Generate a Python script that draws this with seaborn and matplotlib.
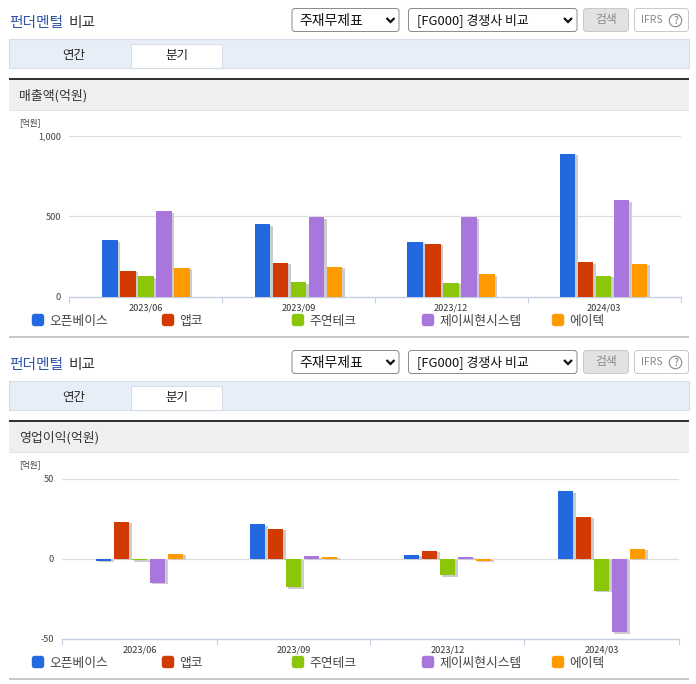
import matplotlib
matplotlib.use("Agg")
import matplotlib.pyplot as plt
import matplotlib.patheffects as pe
from matplotlib.patches import Rectangle, FancyBboxPatch
import pandas as pd
import seaborn as sns

periods = ["2023/06", "2023/09", "2023/12", "2024/03"]
companies = ["오픈베이스", "앱코", "주연테크", "제이씨현시스템", "에이텍"]
colors = ["#2268DE", "#D13A00", "#8CC60B", "#A876DC", "#FF9A00"]

revenue_openbase = [350, 450, 340, 890]
revenue_abko = [160, 210, 330, 215]
revenue_jooyon = [125, 90, 85, 130]
revenue_jchyun = [530, 495, 495, 600]
revenue_atec = [180, 185, 140, 205]

profit_openbase = [-1.5, 21.5, 2.5, 42]
profit_abko = [23, 18.5, 5, 26]
profit_jooyon = [-1, -18, -10.5, -20]
profit_jchyun = [-15, 1.5, 1, -46]
profit_atec = [3, 1, -1.5, 6]

revenue_ticks = [0, 500, 1000]
revenue_labels = ["0", "500", "1,000"]
profit_ticks = [-50, 0, 50]
profit_labels = ["-50", "0", "50"]

W, H = 696, 684
sns.set_theme(style="white")
plt.rcParams["font.family"] = ["Noto Sans CJK KR", "DejaVu Sans"]
fig = plt.figure(figsize=(W / 100, H / 100), dpi=100, facecolor="white")

ui = fig.add_axes([0, 0, 1, 1], zorder=0)
ui.set_xlim(0, W)
ui.set_ylim(H, 0)
ui.axis("off")


def rect(x0, y0, x1, y1, fc, ec="none", lw=0.8):
    ui.add_patch(Rectangle((x0, y0), x1 - x0, y1 - y0, fc=fc, ec=ec, lw=lw))


def rbox(x0, y0, x1, y1, fc, ec, r=3.0, lw=0.7):
    ui.add_patch(FancyBboxPatch((x0 + r, y0 + r), x1 - x0 - 2 * r, y1 - y0 - 2 * r,
                                boxstyle=f"round,pad={r},rounding_size={r}", fc=fc, ec=ec, lw=lw))


def chevron(cx, cy):
    ui.plot([cx - 4, cx, cx + 4], [cy - 2, cy + 2, cy - 2], color="#111111", lw=1.6,
            solid_capstyle="butt", solid_joinstyle="miter")


def section(dy, band_title):
    ui.text(9.5, 23 + dy, "펀더멘털", color="#2F55A8", fontsize=10.6, fontweight="medium", va="center")
    ui.text(69, 23 + dy, "비교", color="#333333", fontsize=10.6, fontweight="medium", va="center")
    rbox(292, 8.5 + dy, 399, 31.5 + dy, "white", "#8A8A8A")
    ui.text(299, 20.5 + dy, "주재무제표", color="#111111", fontsize=10, va="center")
    chevron(390.5, 20 + dy)
    rbox(408.5, 8.5 + dy, 577, 31.5 + dy, "white", "#8A8A8A")
    ui.text(417, 20.5 + dy, "[FG000] 경쟁사 비교", color="#111111", fontsize=9.3, va="center")
    chevron(568, 20 + dy)
    rbox(583.5, 8.5 + dy, 628.5, 31.5 + dy, "#E2E2E2", "#C8C8C8")
    ui.text(606, 20 + dy, "검색", color="#8A8A8A", fontsize=8.5, ha="center", va="center")
    rbox(634.5, 8.5 + dy, 688.5, 31.5 + dy, "white", "#C8C8C8")
    ui.text(641, 20 + dy, "IFRS", color="#888888", fontsize=7.5, va="center")
    ui.text(675.5, 20.5 + dy, "?", color="#777777", fontsize=7.5, ha="center", va="center",
            bbox=dict(boxstyle="circle,pad=0.12", fc="white", ec="#888888", lw=0.8))
    rect(9, 38.5 + dy, 689, 67.5 + dy, "#E8EEF8", "#D5DEEA")
    rect(131, 43.5 + dy, 222, 67.5 + dy, "white", "#D5DEEA")
    ui.text(74, 55 + dy, "연간", color="#222222", fontsize=9, ha="center", va="center")
    ui.text(176.5, 55 + dy, "분기", color="#222222", fontsize=9, ha="center", va="center")
    rect(9, 78 + dy, 689, 80 + dy, "#333333")
    rect(9, 80 + dy, 689, 110 + dy, "#EFEFEF")
    rect(9, 110 + dy, 689, 111 + dy, "#E2E2E2")
    ui.text(19, 96 + dy, band_title, color="#333333", fontsize=9.3, va="center")
    ui.text(19.5, 123 + dy, "[억원]", color="#444444", fontsize=6.2, va="center")
    for i, (name, c) in enumerate(zip(companies, colors)):
        x = 32 + 130 * i
        rbox(x, 314 + dy, x + 12, 326 + dy, c, c, r=2.5, lw=0.3)
        ui.text(x + 17, 321 + dy, name, color="#444444", fontsize=9.2, va="center")
    rect(9, 336 + dy, 689, 338 + dy, "#C8C8C8")


section(0, "매출액(억원)")
section(342, "영업이익(억원)")


def chart(series, ticks, labels, ylim, left, right, top, bottom, c0, step, edges):
    ax = fig.add_axes([left / W, 1 - bottom / H, (right - left) / W, (bottom - top) / H], zorder=2)
    ax.patch.set_alpha(0)
    df = pd.DataFrame({"기간": periods * 5,
                       "회사": [n for n in companies for _ in periods],
                       "값": [v for s in series for v in s]})
    sns.barplot(data=df, x="기간", y="값", hue="회사", order=periods, hue_order=companies,
                palette=colors, saturation=1, width=90 / step, gap=0.12, legend=False, ax=ax, zorder=3)
    for p in ax.patches:
        p.set_edgecolor("none")
        p.set_linewidth(0)
        p.set_path_effects([pe.SimplePatchShadow(offset=(1.5, -1.1), shadow_rgbFace="#CCCCCC", alpha=1),
                            pe.Normal()])
    ax.set_xlim((left - c0) / step, (right - c0) / step)
    ax.set_ylim(*ylim)
    ax.set_xlabel("")
    ax.set_ylabel("")
    ax.set_yticks(ticks)
    ax.set_yticklabels(labels)
    ax.set_xticks(range(len(periods)))
    ax.set_xticklabels(periods)
    ax.set_xticks([(e - c0) / step for e in edges], minor=True)
    ax.tick_params(axis="x", which="major", length=0, pad=5, labelsize=6.6, labelcolor="#333333")
    ax.tick_params(axis="x", which="minor", length=4, width=0.8, color="#C5CFE0", direction="out", bottom=True)
    ax.tick_params(axis="y", which="major", length=0, pad=6, labelsize=6.6, labelcolor="#444444")
    ax.grid(False)
    for t in ticks:
        if t != ylim[0]:
            ax.axhline(t, color="#DDDDDD", lw=0.9, zorder=1)
    for s in ax.spines.values():
        s.set_visible(False)
    ax.spines["bottom"].set_visible(True)
    ax.spines["bottom"].set_color("#C5CFE0")
    ax.spines["bottom"].set_linewidth(1.0)
    return ax


chart([revenue_openbase, revenue_abko, revenue_jooyon, revenue_jchyun, revenue_atec],
      revenue_ticks, revenue_labels, (0, 1000), 69, 681, 136, 296.5, 146, 152.5, [69, 222, 375, 528, 681])
chart([profit_openbase, profit_abko, profit_jooyon, profit_jchyun, profit_atec],
      profit_ticks, profit_labels, (-50, 50), 62, 679, 478.5, 638.5, 139.5, 154, [62, 216.5, 370, 524, 679])

fig.savefig("out.png", dpi=100, facecolor="white")
